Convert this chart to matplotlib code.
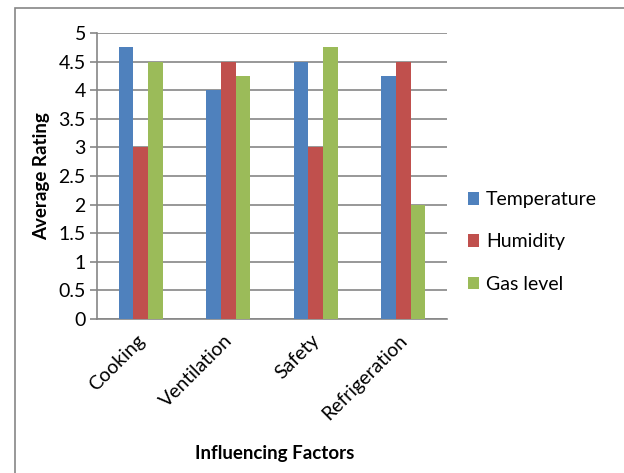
import numpy as np
import matplotlib.pyplot as plt
from matplotlib.patches import Rectangle
import matplotlib.transforms as mtransforms

factors = ["Cooking", "Ventilation", "Safety", "Refrigeration"]
temperature = [4.75, 4.0, 4.5, 4.25]
humidity = [3.0, 4.5, 3.0, 4.5]
gas_level = [4.5, 4.25, 4.75, 2.0]
series_names = ["Temperature", "Humidity", "Gas level"]
colors = ["#4F81BD", "#C0504D", "#9BBB59"]

plt.rcParams['font.family'] = ['Lato', 'DejaVu Sans']

fig = plt.figure(figsize=(6.24, 4.73), dpi=100)
# chart frame like the Excel chart area
fig.patches.append(Rectangle((14.5/624, -0.1), 1.2, (473-8.5)/473 + 0.1,
                             transform=fig.transFigure, fill=False,
                             edgecolor="#868686", linewidth=1.2))

ax = fig.add_axes([97/624, 1-319/473, (447-97)/624, (319-33)/473])
x = np.arange(len(factors))
w = 1/6
for i, vals in enumerate([temperature, humidity, gas_level]):
    ax.bar(x + (i-1)*w, vals, width=w, color=colors[i], label=series_names[i], zorder=3)

ax.set_xlim(-0.5, len(factors)-0.5)
ax.set_ylim(0, 5)
ax.set_yticks(np.arange(0, 5.01, 0.5))
ax.set_yticklabels(["0", "0.5", "1", "1.5", "2", "2.5", "3", "3.5", "4", "4.5", "5"], fontsize=14)
ax.grid(axis='y', color="#868686", linewidth=1.2, zorder=0)
ax.set_xticks(x)
ax.set_xticklabels(factors, rotation=45, ha='right', rotation_mode='anchor', fontsize=14)
ax.tick_params(axis='x', length=0, pad=9)
offset = mtransforms.ScaledTranslation(-5/100, 0, fig.dpi_scale_trans)
for lab in ax.get_xticklabels():
    lab.set_transform(lab.get_transform() + offset)
ax.tick_params(axis='y', length=5, color="#868686", width=1.2, pad=3)
for s in ["top", "right"]:
    ax.spines[s].set_visible(False)
for s in ["left", "bottom"]:
    ax.spines[s].set_color("#868686")
    ax.spines[s].set_linewidth(1.2)

ax.set_ylabel("Average Rating", fontsize=13.5, fontweight='bold', labelpad=6)
fig.text(275/624, 1-453/473, "Influencing Factors", fontsize=13.5, fontweight='bold',
         ha='center', va='center')

leg = ax.legend(loc='center left', bbox_to_anchor=(450/624, 1-242/473),
                bbox_transform=fig.transFigure, frameon=False, fontsize=14,
                handlelength=0.6, handleheight=0.6, handletextpad=0.35,
                labelspacing=1.3)

fig.savefig("out.png", dpi=100)
